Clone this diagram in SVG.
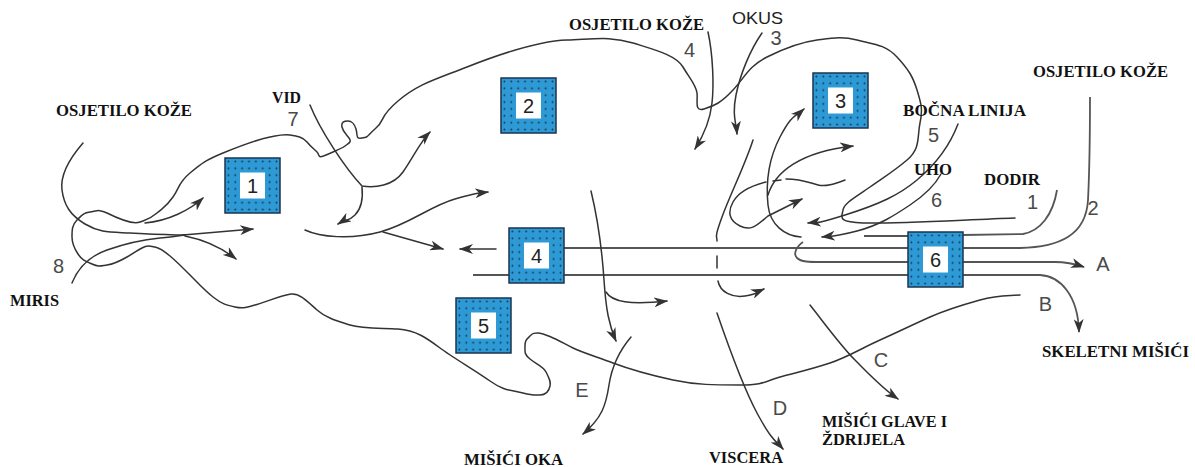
<svg xmlns="http://www.w3.org/2000/svg" width="1195" height="467" viewBox="0 0 1195 467">
<style>
.ln{fill:none;stroke:#333;stroke-width:1.5;stroke-linecap:round}
.hl{fill:none;stroke:#555;stroke-width:1.8}
.box{fill:url(#dots);stroke:#1b3550;stroke-width:1.5}
.inner{fill:#fff}
.num{font-family:"Liberation Sans",Arial,sans-serif;font-size:20px;fill:#222;text-anchor:middle}
.dg{font-family:"Liberation Sans",Arial,sans-serif;font-size:20px;fill:#4a4a4a;text-anchor:middle}
.lb{font-family:"Liberation Serif","Times New Roman",serif;font-size:16px;font-weight:bold;fill:#111}
.sn{font-family:"Liberation Sans",Arial,sans-serif;font-size:17px;fill:#222}
</style>
<defs>
<pattern id="dots" patternUnits="objectBoundingBox" width="0.125" height="0.125" patternContentUnits="userSpaceOnUse">
<rect width="7" height="7" fill="#2d9ad6"/>
<circle cx="3.4" cy="3.4" r="0.9" fill="#15304d"/>
</pattern>
<marker id="ah" viewBox="0 0 14 10" refX="13" refY="5" markerWidth="14" markerHeight="10" markerUnits="userSpaceOnUse" orient="auto">
<path d="M0,0 L14,5 L0,10 L4,5 Z" fill="#333"/>
</marker>
</defs>
<rect width="1195" height="467" fill="#fff"/>

<g id="brain-outline">
<path class="ln" d="M 1015,218 C 960,220 890,224 863,223 S 842,217 843,210 S 856,197 870,187 S 893,172 907,160 S 917,137 920,123 S 921,103 917,90 S 909,70 897,57 S 872,44 857,40 S 832,38 817,40 S 785,48 767,57 S 745,77 733,90 S 714,106 704,109 S 698,101 697,93 S 690,79 683,67 S 655,50 633,43 S 595,39 567,40 S 500,54 467,67 S 418,84 398,101 S 386,119 376,128 S 369,137 362,138 S 358,135 356,129 S 352,121 348,121 S 341,122 342,127 S 346,134 349,138 S 349,143 345,146 S 335,151 326,155 S 320,155 317,152 S 311,147 307,142 S 297,136 290,135 S 280,135 270,137 S 240,146 223,153 S 202,163 190,173 S 180,187 173,197 S 164,207 157,213 S 148,219 140,222 S 115,217 107,213 S 97,211 90,212 S 82,215 77,220 S 72,230 72,237 S 74,248 78,254 S 85,261 92,264 S 100,266 107,265 S 120,261 127,257 S 136,251 142,248 S 150,246 155,247 S 164,251 170,256 S 183,268 190,275 S 204,290 213,297 S 226,305 235,307 S 247,307 255,305 S 282,295 291,294 S 308,302 317,310 S 337,321 350,325 S 380,328 398,329 S 428,339 440,348 S 476,371 490,381 S 511,390 523,393 S 533,395 540,395 S 549,391 550,386 S 549,378 546,372 S 536,364 530,359 S 525,352 525,346 S 527,339 530,336 S 534,333 538,333 S 546,335 551,337 S 565,344 573,348 S 597,357 613,363 S 650,375 673,380 S 715,385 740,385 S 765,381 780,377 S 812,369 830,363 S 862,348 880,340 S 912,325 930,317 S 962,305 980,300 S 1005,296 1020,295"/>
</g>

<g id="connectors">
<!-- left inputs -->
<path class="ln" d="M 83,143 C 70,158 60,175 62,190 S 70,215 85,224 S 110,232 130,233 S 165,235 185,235"/>
<path class="ln" d="M 72,283 C 78,268 90,256 107,250 S 140,240 160,238 S 175,236 185,235"/>
<path class="ln" d="M 183,235 L 253,229" marker-end="url(#ah)"/>
<path class="ln" d="M 185,236 C 205,240 222,248 236,259" marker-end="url(#ah)"/>
<path class="ln" d="M 145,223 C 168,221 190,210 203,198" marker-end="url(#ah)"/>
<!-- VID -->
<path class="ln" d="M 310,105 C 320,130 345,168 362,186 C 375,188 393,186 403,172 S 420,142 430,132" marker-end="url(#ah)"/>
<path class="ln" d="M 362,187 C 363,197 362,208 355,215 S 346,219 338,224" marker-end="url(#ah)"/>
<path class="ln" d="M 305,230 C 320,237 350,240 380,232 S 430,206 455,199 S 478,193 488,192" marker-end="url(#ah)"/>
<path class="ln" d="M 383,232 L 443,249" marker-end="url(#ah)"/>
<path class="ln" d="M 496,249 L 460,249" marker-end="url(#ah)"/>
<!-- top inputs -->
<path class="ln" d="M 708,32 C 713,55 714,85 712,103 S 702,138 695,149" marker-end="url(#ah)"/>
<path class="ln" d="M 762,33 C 750,50 740,75 736,95 S 736,122 737,134" marker-end="url(#ah)"/>
<!-- dashed vertical -->
<path class="ln" d="M 753,140 C 745,165 730,195 722,217 S 717,235 717,241"/>
<path class="ln" d="M 717,256 L 717,268"/>
<path class="ln" d="M 718,281 C 720,292 732,298 745,296 S 757,292 764,289" marker-end="url(#ah)"/>
<!-- cerebellar region -->
<path class="ln" d="M 801,237 C 785,236 770,225 768,205 S 768,160 780,137 S 795,117 804,109" marker-end="url(#ah)"/>
<path class="ln" d="M 768,195 C 775,172 800,152 853,146" marker-end="url(#ah)"/>
<path class="ln" d="M 845,180 C 834,184 826,187 818,185 S 802,179 786,179"/>
<path class="ln" d="M 781,180 L 773,181"/>
<path class="ln" d="M 766,182 C 750,186 738,193 733,202 S 728,220 740,226 S 758,224 768,216 L 802,199" marker-end="url(#ah)"/>
<path class="ln" d="M 958,124 C 950,145 935,165 917,180 S 880,204 845,215 S 818,222 808,223" marker-end="url(#ah)"/>
<path class="ln" d="M 941,174 C 935,185 925,195 910,205 S 880,225 857,231 S 832,236 822,237" marker-end="url(#ah)"/>
<!-- long tracts -->
<path class="hl" d="M 864,236 L 908,236"/>
<path class="hl" d="M 963,235 L 1023,234 C 1040,231 1053,215 1057,190"/>
<path class="hl" d="M 564,248 L 908,248"/>
<path class="hl" d="M 963,248 L 1020,248 C 1060,247 1086,235 1088,200 C 1090,160 1090,120 1090,97"/>
<path class="hl" d="M 803,242 C 796,247 793,254 797,258 C 801,262 810,262 820,262 L 908,262"/>
<path class="hl" d="M 963,262 L 1055,262 C 1068,262 1075,264 1084,267" marker-end="url(#ah)"/>
<path class="hl" d="M 473,275 L 1040,275 C 1060,276 1078,295 1079,332" marker-end="url(#ah)"/>
<!-- outputs -->
<path class="ln" d="M 591,191 C 598,220 602,250 604,280 S 609,325 616,341" marker-end="url(#ah)"/>
<path class="ln" d="M 606,292 C 612,302 630,305 667,301" marker-end="url(#ah)"/>
<path class="ln" d="M 631,337 C 620,350 612,365 609,385 S 602,418 583,434" marker-end="url(#ah)"/>
<path class="ln" d="M 717,313 C 728,345 742,385 757,413 S 776,441 783,449" marker-end="url(#ah)"/>
<path class="ln" d="M 810,305 C 822,320 840,345 855,360 S 882,388 898,399" marker-end="url(#ah)"/>
</g>

<g id="node1"><rect class="box" x="225" y="158" width="55" height="55"/><rect class="inner" x="240" y="172.5" width="25" height="26"/><text class="num" x="252.5" y="193">1</text></g>
<g id="node2"><rect class="box" x="501" y="78" width="55" height="55"/><rect class="inner" x="516" y="92.5" width="25" height="26"/><text class="num" x="528.5" y="113">2</text></g>
<g id="node3"><rect class="box" x="813" y="73" width="55" height="55"/><rect class="inner" x="828" y="87.5" width="25" height="26"/><text class="num" x="840.5" y="108">3</text></g>
<g id="node4"><rect class="box" x="509" y="228" width="55" height="55"/><rect class="inner" x="524" y="242.5" width="25" height="26"/><text class="num" x="536.5" y="263">4</text></g>
<g id="node5"><rect class="box" x="456" y="298" width="55" height="55"/><rect class="inner" x="471" y="312.5" width="25" height="26"/><text class="num" x="483.5" y="333">5</text></g>
<g id="node6"><rect class="box" x="908" y="232" width="55" height="55"/><rect class="inner" x="923" y="246.5" width="25" height="26"/><text class="num" x="935.5" y="267">6</text></g>

<g id="labels">
<text class="lb" x="56" y="116" textLength="136" lengthAdjust="spacingAndGlyphs">OSJETILO KOŽE</text>
<text class="lb" x="272" y="103" textLength="29" lengthAdjust="spacingAndGlyphs">VID</text>
<text class="lb" x="10" y="306" textLength="49" lengthAdjust="spacingAndGlyphs">MIRIS</text>
<text class="lb" x="569" y="30" textLength="135" lengthAdjust="spacingAndGlyphs">OSJETILO KOŽE</text>
<text class="sn" x="732" y="24" textLength="51" lengthAdjust="spacingAndGlyphs">OKUS</text>
<text class="lb" x="903" y="116" textLength="123" lengthAdjust="spacingAndGlyphs">BOČNA LINIJA</text>
<text class="lb" x="914" y="175" textLength="38" lengthAdjust="spacingAndGlyphs">UHO</text>
<text class="lb" x="984" y="185" textLength="56" lengthAdjust="spacingAndGlyphs">DODIR</text>
<text class="lb" x="1033" y="77" textLength="135" lengthAdjust="spacingAndGlyphs">OSJETILO KOŽE</text>
<text class="lb" x="1042" y="357" textLength="147" lengthAdjust="spacingAndGlyphs">SKELETNI MIŠIĆI</text>
<text class="lb" x="822" y="427" textLength="125" lengthAdjust="spacingAndGlyphs">MIŠIĆI GLAVE I</text>
<text class="lb" x="822" y="445" textLength="83" lengthAdjust="spacingAndGlyphs">ŽDRIJELA</text>
<text class="lb" x="464" y="465" textLength="99" lengthAdjust="spacingAndGlyphs">MIŠIĆI OKA</text>
<text class="lb" x="709" y="463" textLength="74" lengthAdjust="spacingAndGlyphs">VISCERA</text>
<text class="dg" x="293" y="126">7</text>
<text class="dg" x="58.5" y="273">8</text>
<text class="dg" x="689.5" y="57">4</text>
<text class="dg" x="776" y="45">3</text>
<text class="dg" x="933.5" y="142">5</text>
<text class="dg" x="936.5" y="207">6</text>
<text class="dg" x="1032.5" y="209">1</text>
<text class="dg" x="1093" y="215">2</text>
<text class="dg" x="1103" y="271">A</text>
<text class="dg" x="1045.5" y="311">B</text>
<text class="dg" x="881" y="367">C</text>
<text class="dg" x="780" y="415">D</text>
<text class="dg" x="582" y="397">E</text>
</g>
</svg>
